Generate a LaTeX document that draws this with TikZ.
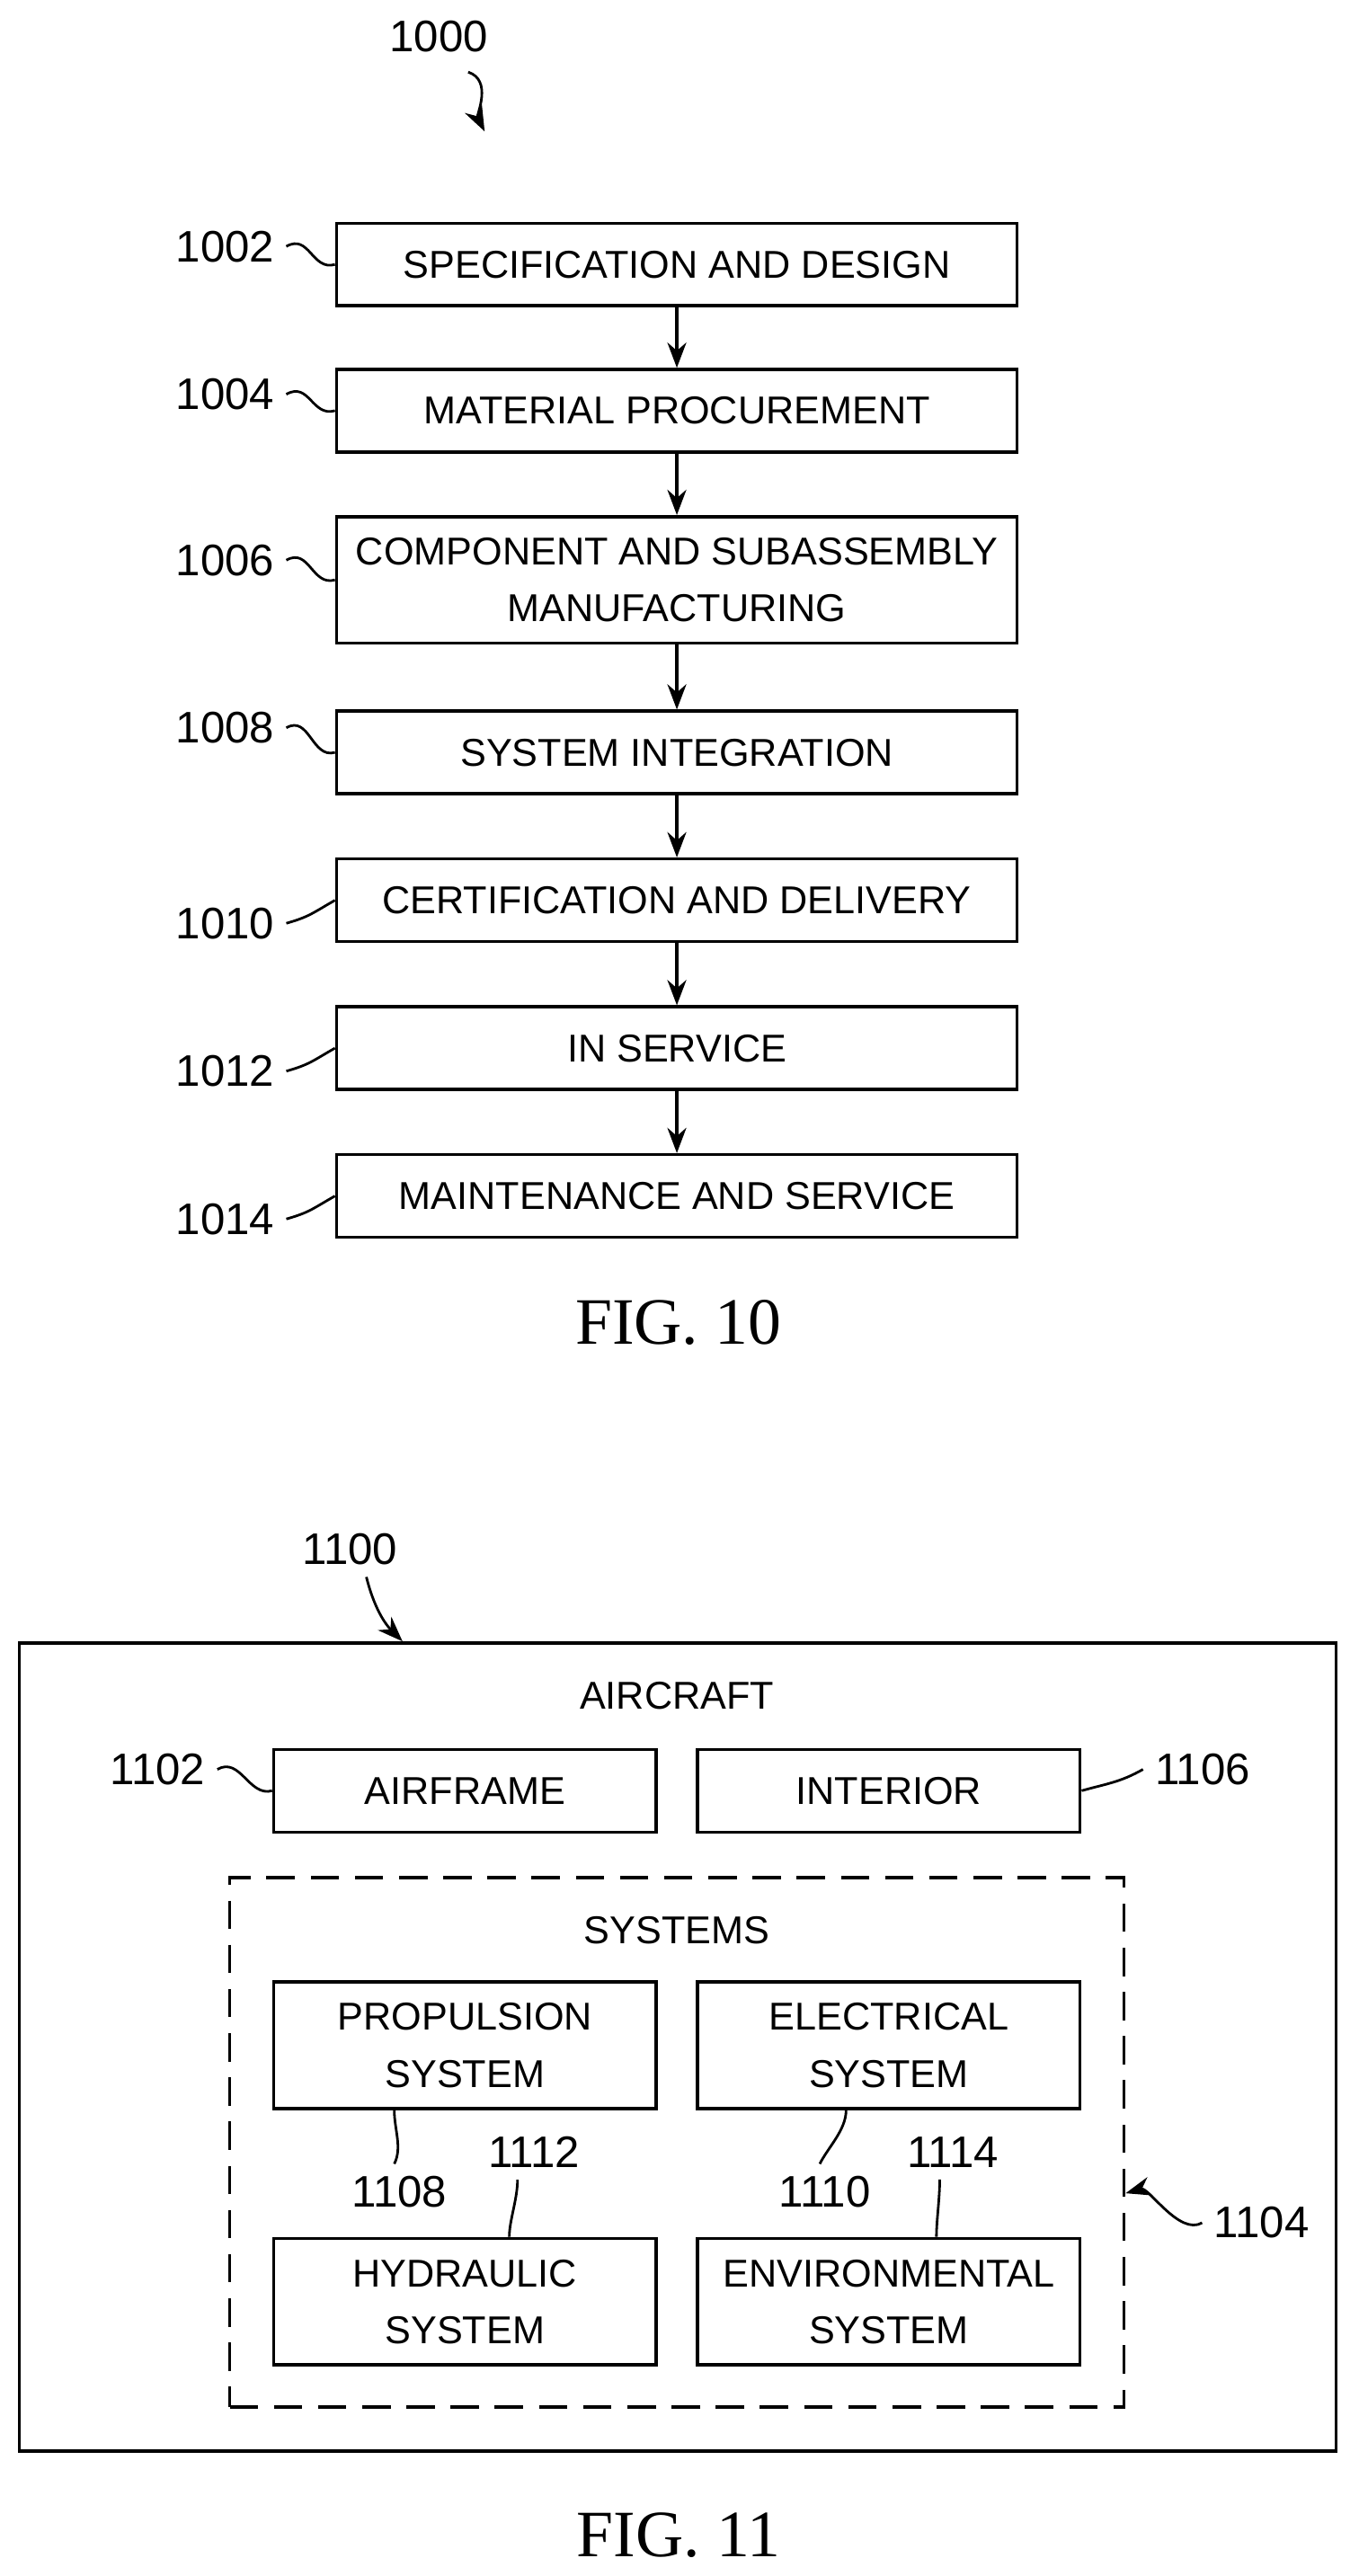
\documentclass[tikz,border=0pt]{standalone}
\usepackage{fontspec}
\setmainfont{Liberation Sans}
\newfontfamily\figfont{Liberation Serif}
\usetikzlibrary{arrows.meta}
\begin{document}
\begin{tikzpicture}[x=0.0183cm, y=0.0183cm, line width=1pt,
  font=\fontsize{12.3}{15}\selectfont,
  block/.style={rectangle, draw, minimum width=7.58cm, minimum height=0.92cm, align=center, inner sep=0pt},
  tall/.style={block, minimum height=1.41cm},
  sblock/.style={block, minimum width=4.26cm},
  stall/.style={sblock, minimum height=1.41cm},
  num/.style={font=\fontsize{14}{16}\selectfont},
  lead/.style={line width=0.8pt},
  figlabel/.style={font=\figfont\fontsize{21}{24}\selectfont}]

  \useasboundingbox (0,0) rectangle (827,-1568);

  % FIG. 10
  \node[block] (spec)  at (412,-161) {SPECIFICATION AND DESIGN};
  \node[block] (mat)   at (412,-250) {MATERIAL PROCUREMENT};
  \node[tall]  (comp)  at (412,-353) {COMPONENT AND SUBASSEMBLY\\[3pt]MANUFACTURING};
  \node[block] (sys)   at (412,-458) {SYSTEM INTEGRATION};
  \node[block] (cert)  at (412,-548) {CERTIFICATION AND DELIVERY};
  \node[block] (serv)  at (412,-638) {IN SERVICE};
  \node[block] (maint) at (412,-728) {MAINTENANCE AND SERVICE};

  \foreach \a/\b in {spec/mat, mat/comp, comp/sys, sys/cert, cert/serv, serv/maint}
    \draw[-{Stealth[length=8pt,width=6pt]}] (\a) -- (\b);

  \node[num] (l1000) at (267,-22) {1000};
  \node[num] (l1002) at (137,-150) {1002};
  \node[num] (l1004) at (137,-240) {1004};
  \node[num] (l1006) at (137,-341) {1006};
  \node[num] (l1008) at (137,-443) {1008};
  \node[num] (l1010) at (137,-562) {1010};
  \node[num] (l1012) at (137,-652) {1012};
  \node[num] (l1014) at (137,-742) {1014};

  \coordinate (a1000) at (295,-80);
  \draw[lead, -{Stealth[length=8pt,width=6pt]}] (l1000.south) ++(18,-5) .. controls +(15,-5) and +(-5,10) .. (a1000);

  \foreach \l/\b in {l1002/spec, l1004/mat, l1006/comp, l1008/sys}
    \draw[lead] (\l.east) .. controls +(14,8) and +(-14,-4) .. (\b.west);
  \foreach \l/\b in {l1010/cert, l1012/serv, l1014/maint}
    \draw[lead] (\l.east) .. controls +(14,4) and +(-14,-8) .. (\b.west);

  \node[figlabel] (fig10) at (413,-805) {FIG. 10};

  % FIG. 11
  \node[draw, minimum width=14.66cm, minimum height=9.0cm] (aircraft) at (412.5,-1246) {};
  \node (tair) at (412,-1032) {AIRCRAFT};
  \node[sblock] (frame) at (283,-1090) {AIRFRAME};
  \node[sblock] (inter) at (541,-1090) {INTERIOR};
  \node[draw, dashed, dash pattern=on 9pt off 5pt, minimum width=9.96cm, minimum height=5.9cm] (systems) at (412,-1304) {};
  \node (tsys) at (412,-1175) {SYSTEMS};
  \node[stall] (prop) at (283,-1245) {PROPULSION\\[3pt]SYSTEM};
  \node[stall] (elec) at (541,-1245) {ELECTRICAL\\[3pt]SYSTEM};
  \node[stall] (hyd)  at (283,-1401) {HYDRAULIC\\[3pt]SYSTEM};
  \node[stall] (env)  at (541,-1401) {ENVIRONMENTAL\\[3pt]SYSTEM};

  \node[num] (l1100) at (213,-943) {1100};
  \node[num] (l1102) at (96,-1077) {1102};
  \node[num] (l1106) at (732,-1077) {1106};
  \node[num] (l1104) at (768,-1353) {1104};
  \node[num] (l1108) at (243,-1334) {1108};
  \node[num] (l1112) at (325,-1310) {1112};
  \node[num] (l1110) at (502,-1334) {1110};
  \node[num] (l1114) at (580,-1310) {1114};

  \draw[lead, -{Stealth[length=8pt,width=6pt]}] (l1100.south) ++(10,0) .. controls +(5,-20) and +(-10,10) .. (aircraft.north west -| 245,0);
  \draw[lead] (l1102.east) .. controls +(14,8) and +(-14,-4) .. (frame.west);
  \draw[lead] (l1106.west) .. controls +(-14,-8) and +(14,4) .. (inter.east);
  \draw[lead, -{Stealth[length=8pt,width=6pt]}] (l1104.west) .. controls +(-14,-8) and +(14,4) .. (systems.east |- 0,-1335);
  \draw[lead] (l1108.north) ++(-3,0) .. controls +(5,10) and +(0,-12) .. (prop.south -| 240,0);
  \draw[lead] (l1110.north) ++(-3,0) .. controls +(5,10) and +(0,-12) .. (elec.south -| 515,0);
  \draw[lead] (l1112.south) ++(-10,0) .. controls +(0,-12) and +(0,10) .. (hyd.north -| 310,0);
  \draw[lead] (l1114.south) ++(-8,0) .. controls +(0,-12) and +(0,10) .. (env.north -| 570,0);

  \node[figlabel] (fig11) at (413,-1543) {FIG. 11};
\end{tikzpicture}
\end{document}
